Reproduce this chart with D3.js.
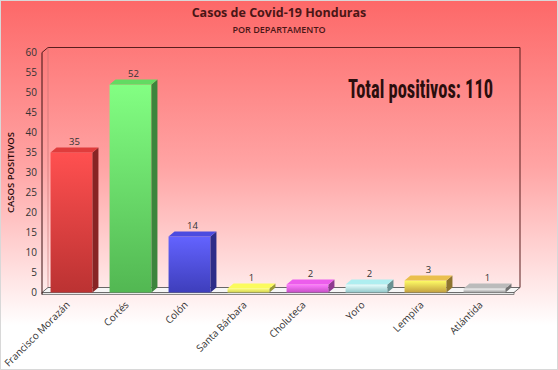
<!DOCTYPE html>
<html>
<head>
<meta charset="utf-8">
<script src="https://cdn.jsdelivr.net/npm/d3@7"></script>
<style>
  body { margin: 0; }
  svg { display: block; font-family: "Open Sans", sans-serif; }
</style>
</head>
<body>
<svg width="558" height="370"></svg>
<script>
// datos del grafico
var departamentos = ["Francisco Morazán", "Cortés", "Colón", "Santa Bárbara", "Choluteca", "Yoro", "Lempira", "Atlántida"];
var casos = [35, 52, 14, 1, 2, 2, 3, 1];
var colores = ["#d83a3a", "#5fd35f", "#4848d8", "#f2f25a", "#e45ae4", "#a8e6e8", "#e2b84a", "#b4b4b4"];
var yTicks = [0, 5, 10, 15, 20, 25, 30, 35, 40, 45, 50, 55, 60];
var totalTexto = "Total positivos: 110";

var svg = d3.select("svg"),
    width = +svg.attr("width"),
    height = +svg.attr("height");

var defs = svg.append("defs");

// fondo rojo -> blanco
var bg = defs.append("linearGradient").attr("id", "bg").attr("x1", 0).attr("y1", 0).attr("x2", 0).attr("y2", 1);
bg.append("stop").attr("offset", "0%").attr("stop-color", "#fd6868");
bg.append("stop").attr("offset", "45%").attr("stop-color", "#ffa4a4");
bg.append("stop").attr("offset", "88%").attr("stop-color", "#ffffff");
bg.append("stop").attr("offset", "100%").attr("stop-color", "#ffffff");

svg.append("rect").attr("width", width).attr("height", height).attr("fill", "url(#bg)");
svg.append("rect").attr("x", 0.5).attr("y", 0.5).attr("width", width - 1).attr("height", height - 1)
    .attr("fill", "none").attr("stroke", "#d8d8d8");

var dx = 6, dy = -5;

var x = d3.scaleBand()
    .domain(departamentos)
    .range([42, 514])
    .paddingInner(0.29)
    .paddingOuter(0.145);

var y = d3.scaleLinear()
    .domain([0, 60])
    .range([292.5, 52.5]);

// gradientes de las barras
departamentos.forEach(function (d, i) {
    var c = d3.color(colores[i]);
    var g = defs.append("linearGradient").attr("id", "g" + i).attr("x1", 0).attr("y1", 0).attr("x2", 0).attr("y2", 1);
    g.append("stop").attr("offset", "0%").attr("stop-color", c.brighter(0.9));
    g.append("stop").attr("offset", "100%").attr("stop-color", c.darker(0.4));
});

// titulos
svg.append("text").attr("x", width / 2).attr("y", 17).attr("text-anchor", "middle")
    .attr("font-size", 12.5).attr("font-weight", "bold").attr("fill", "#4a1616")
    .text("Casos de Covid-19 Honduras");
svg.append("text").attr("x", width / 2).attr("y", 33).attr("text-anchor", "middle")
    .attr("font-size", 9).attr("font-weight", 600).attr("fill", "#4a1616")
    .text("POR DEPARTAMENTO");

// paredes 3D
var x0 = x.range()[0], x1 = x.range()[1];
var frame = svg.append("g").attr("fill", "none").attr("stroke", "#5a1e1e").attr("stroke-width", 1);
frame.append("path").attr("d",
    "M" + x0 + "," + y(60) + "L" + (x0 + dx) + "," + (y(60) + dy) +
    "L" + (x1 + dx) + "," + (y(60) + dy) + "L" + (x1 + dx) + "," + (y(0) + dy));
frame.append("path").attr("d", "M" + (x0 + dx) + "," + (y(60) + dy) + "L" + (x0 + dx) + "," + (y(0) + dy))
    .attr("stroke", "#c07070").attr("stroke-width", 0.6);

// piso
svg.append("path")
    .attr("d", "M" + x0 + "," + y(0) + "L" + (x0 + dx) + "," + (y(0) + dy) +
        "L" + (x1 + dx) + "," + (y(0) + dy) + "L" + x1 + "," + y(0) + "Z")
    .attr("fill", "#f6f6f6").attr("stroke", "#444").attr("stroke-width", 0.8);
svg.append("rect").attr("x", x0).attr("y", y(0)).attr("width", x1 - x0).attr("height", 2)
    .attr("fill", "#e8e8e8").attr("stroke", "#444").attr("stroke-width", 0.6);

// eje y
svg.append("line").attr("x1", x0).attr("x2", x0).attr("y1", y(60)).attr("y2", y(0) + 2)
    .attr("stroke", "#3a1010").attr("stroke-width", 1);

var yAxis = d3.axisLeft(y).tickValues(yTicks).tickSize(0).tickPadding(5);
var gy = svg.append("g").attr("transform", "translate(" + x0 + ",0)").call(yAxis);
gy.select(".domain").remove();
gy.selectAll("text").attr("font-size", 10).attr("fill", "#333").attr("font-family", "Open Sans, sans-serif");

svg.append("text")
    .attr("transform", "translate(14," + y(30) + ") rotate(-90)")
    .attr("text-anchor", "middle").attr("font-size", 9.5).attr("font-weight", 600).attr("fill", "#2a0a0a")
    .text("CASOS POSITIVOS");

// barras
var bars = svg.append("g").selectAll("g").data(casos).enter().append("g");

bars.append("rect")
    .attr("x", function (d, i) { return x(departamentos[i]); })
    .attr("y", function (d) { return y(d); })
    .attr("width", x.bandwidth())
    .attr("height", function (d) { return y(0) - y(d); })
    .attr("fill", function (d, i) { return "url(#g" + i + ")"; });

bars.append("path")
    .attr("d", function (d, i) {
        var r = x(departamentos[i]) + x.bandwidth();
        return "M" + r + "," + y(d) + "L" + (r + dx) + "," + (y(d) + dy) +
            "L" + (r + dx) + "," + (y(0) + dy) + "L" + r + "," + y(0) + "Z";
    })
    .attr("fill", function (d, i) { return d3.color(colores[i]).darker(1.3); });

bars.append("path")
    .attr("d", function (d, i) {
        var l = x(departamentos[i]), r = l + x.bandwidth();
        return "M" + l + "," + y(d) + "L" + (l + dx) + "," + (y(d) + dy) +
            "L" + (r + dx) + "," + (y(d) + dy) + "L" + r + "," + y(d) + "Z";
    })
    .attr("fill", function (d, i) { return d3.color(colores[i]).brighter(0.1); });

bars.append("text")
    .attr("x", function (d, i) { return x(departamentos[i]) + x.bandwidth() / 2 + dx / 2; })
    .attr("y", function (d) { return y(d) + dy - 3; })
    .attr("text-anchor", "middle").attr("font-size", 9.5).attr("fill", "#333")
    .text(function (d) { return d; });

// etiquetas x
svg.append("g").selectAll("text").data(departamentos).enter().append("text")
    .attr("transform", function (d) {
        return "translate(" + (x(d) + x.bandwidth() / 2 - 1) + "," + (y(0) + 13) + ") rotate(-45)";
    })
    .attr("text-anchor", "end").attr("font-size", 10).attr("fill", "#333")
    .text(function (d) { return d; });

// total
svg.append("text").attr("x", 348).attr("y", 98)
    .attr("font-family", "Liberation Sans Narrow, Roboto Condensed, sans-serif")
    .attr("font-size", 25).attr("font-weight", "bold").attr("fill", "#2a0e0e")
    .attr("textLength", 145).attr("lengthAdjust", "spacingAndGlyphs")
    .text(totalTexto);
</script>
</body>
</html>
